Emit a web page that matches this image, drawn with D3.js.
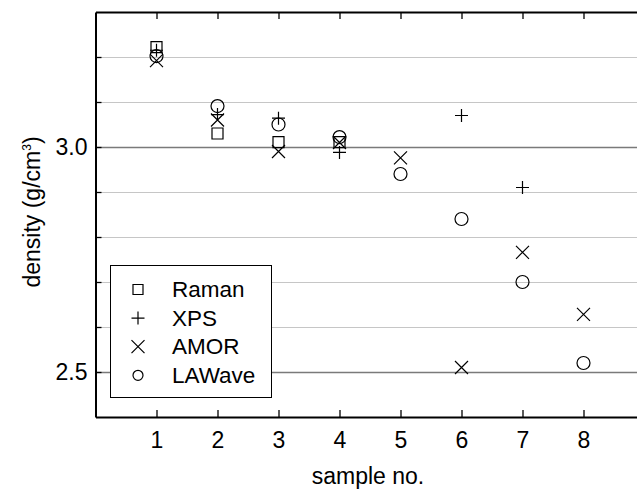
<!DOCTYPE html>
<html>
<head>
<meta charset="utf-8">
<script src="https://cdnjs.cloudflare.com/ajax/libs/d3/7.8.5/d3.min.js"></script>
<style>
  body { margin: 0; background: #fff; }
  svg { display: block; font-family: "Liberation Sans", Arial, sans-serif; }
</style>
</head>
<body>
<div id="chart"></div>
<script>
// data
var samples = [1, 2, 3, 4, 5, 6, 7, 8];
var raman  = [3.222, 3.030, 3.011, 3.011, null, null, null, null];
var xps    = [3.215, 3.072, 3.064, 2.988, null, 3.070, 2.910, null];
var amor   = [3.192, 3.060, 2.990, 3.010, 2.976, 2.510, 2.766, 2.628];
var lawave = [3.202, 3.091, 3.050, 3.022, 2.940, 2.840, 2.700, 2.520];
var seriesNames = ["Raman", "XPS", "AMOR", "LAWave"];
var yTicks = [2.5, 2.6, 2.7, 2.8, 2.9, 3.0, 3.1, 3.2];
var yLabels = [2.5, 3.0];

(function(){
    var W = 637, H = 491;
    var pLeft = 95.5, pTop = 12, pBottom = 417;

    var svg = d3.select('#chart').append('svg').attr('width', W).attr('height', H);

    var x = d3.scaleLinear().domain([0, 9]).range([pLeft, pLeft + 9 * 61]);
    var y = d3.scaleLinear().domain([2.4, 3.3]).range([pBottom, pTop]);

    // grid lines: solid at labelled values, dotted in between
    svg.append('g').selectAll('line').data(yTicks).enter().append('line')
        .attr('x1', pLeft).attr('x2', W)
        .attr('y1', function(d){ return Math.round(y(d)) + 0.5; })
        .attr('y2', function(d){ return Math.round(y(d)) + 0.5; })
        .attr('stroke', function(d){ return yLabels.indexOf(d) >= 0 ? '#7a7a7a' : '#8c8c8c'; })
        .attr('stroke-width', function(d){ return yLabels.indexOf(d) >= 0 ? 1.4 : 1; })
        .attr('stroke-dasharray', function(d){ return yLabels.indexOf(d) >= 0 ? null : '1,1'; });

    // axes
    var xBottom = d3.axisBottom(x).tickValues(samples).tickSizeInner(-7).tickSizeOuter(0).tickPadding(15)
        .tickFormat(d3.format('d'));
    var xTop = d3.axisTop(x).tickValues(samples).tickSizeInner(-7).tickSizeOuter(0).tickFormat('');
    var yLeft = d3.axisLeft(y).tickValues(yTicks).tickSizeInner(-6).tickSizeOuter(0).tickPadding(8)
        .tickFormat(function(d){ return yLabels.indexOf(d) >= 0 ? d3.format('.1f')(d) : ''; });

    function styleAxis(g){
        g.select('.domain').attr('stroke', '#000').attr('stroke-width', 2);
        g.selectAll('.tick line').attr('stroke', '#000').attr('stroke-width', 1.3);
        g.selectAll('.tick text').attr('fill', '#000').style('font-size', '23px')
            .style('font-family', '"Liberation Sans", Arial, sans-serif');
    }

    svg.append('g').attr('transform', 'translate(0,' + pBottom + ')').call(xBottom).call(styleAxis);
    svg.append('g').attr('transform', 'translate(0,' + pTop + ')').call(xTop).call(styleAxis);
    svg.append('g').attr('transform', 'translate(' + pLeft + ',0)').call(yLeft).call(styleAxis);

    // axis titles
    svg.append('text').attr('x', 368).attr('y', 484).attr('text-anchor', 'middle')
        .style('font-size', '23px').text('sample no.');
    var yt = svg.append('text').attr('transform', 'translate(40,212) rotate(-90)')
        .attr('text-anchor', 'middle').style('font-size', '23px');
    yt.append('tspan').text('density (g/cm');
    yt.append('tspan').attr('dy', -9).style('font-size', '12px').text('3');
    yt.append('tspan').attr('dy', 9).text(')');

    // marker shapes
    function markerPath(name, s){
        var h = s / 2;
        if (name === 'Raman') return 'M' + (-h) + ',' + (-h) + 'H' + h + 'V' + h + 'H' + (-h) + 'Z';
        if (name === 'XPS') return 'M' + (-h) + ',0H' + h + 'M0,' + (-h) + 'V' + h;
        if (name === 'AMOR') return 'M' + (-h) + ',' + (-h) + 'L' + h + ',' + h + 'M' + h + ',' + (-h) + 'L' + (-h) + ',' + h;
        return 'M' + h + ',0A' + h + ',' + h + ' 0 1,1 ' + (-h) + ',0A' + h + ',' + h + ' 0 1,1 ' + h + ',0Z';
    }
    var markSize = { Raman: 11, XPS: 13, AMOR: 13, LAWave: 13 };

    var allSeries = [raman, xps, amor, lawave];
    var plot = svg.append('g');
    allSeries.forEach(function(vals, si){
        var name = seriesNames[si];
        var pts = samples.map(function(s, i){ return { x: s, v: vals[i] }; })
            .filter(function(d){ return d.v !== null; });
        plot.selectAll('.m' + si).data(pts).enter().append('path')
            .attr('class', 'm' + si)
            .attr('transform', function(d){ return 'translate(' + x(d.x) + ',' + y(d.v) + ')'; })
            .attr('d', markerPath(name, markSize[name]))
            .attr('fill', 'none').attr('stroke', '#000').attr('stroke-width', 1.2);
    });

    // legend
    var lg = svg.append('g');
    lg.append('rect').attr('x', 110.5).attr('y', 265.5).attr('width', 161).attr('height', 132)
        .attr('fill', '#fff').attr('stroke', '#000').attr('stroke-width', 1);
    var lgSize = { Raman: 10, XPS: 13, AMOR: 13, LAWave: 10 };
    seriesNames.forEach(function(name, i){
        var cy = 289.5 + i * 28.6;
        lg.append('path').attr('transform', 'translate(138,' + cy + ')')
            .attr('d', markerPath(name, lgSize[name]))
            .attr('fill', 'none').attr('stroke', '#000').attr('stroke-width', 1.2);
        lg.append('text').attr('x', 172).attr('y', cy + 7.5).style('font-size', '22.5px').text(name);
    });
})();
</script>
</body>
</html>
